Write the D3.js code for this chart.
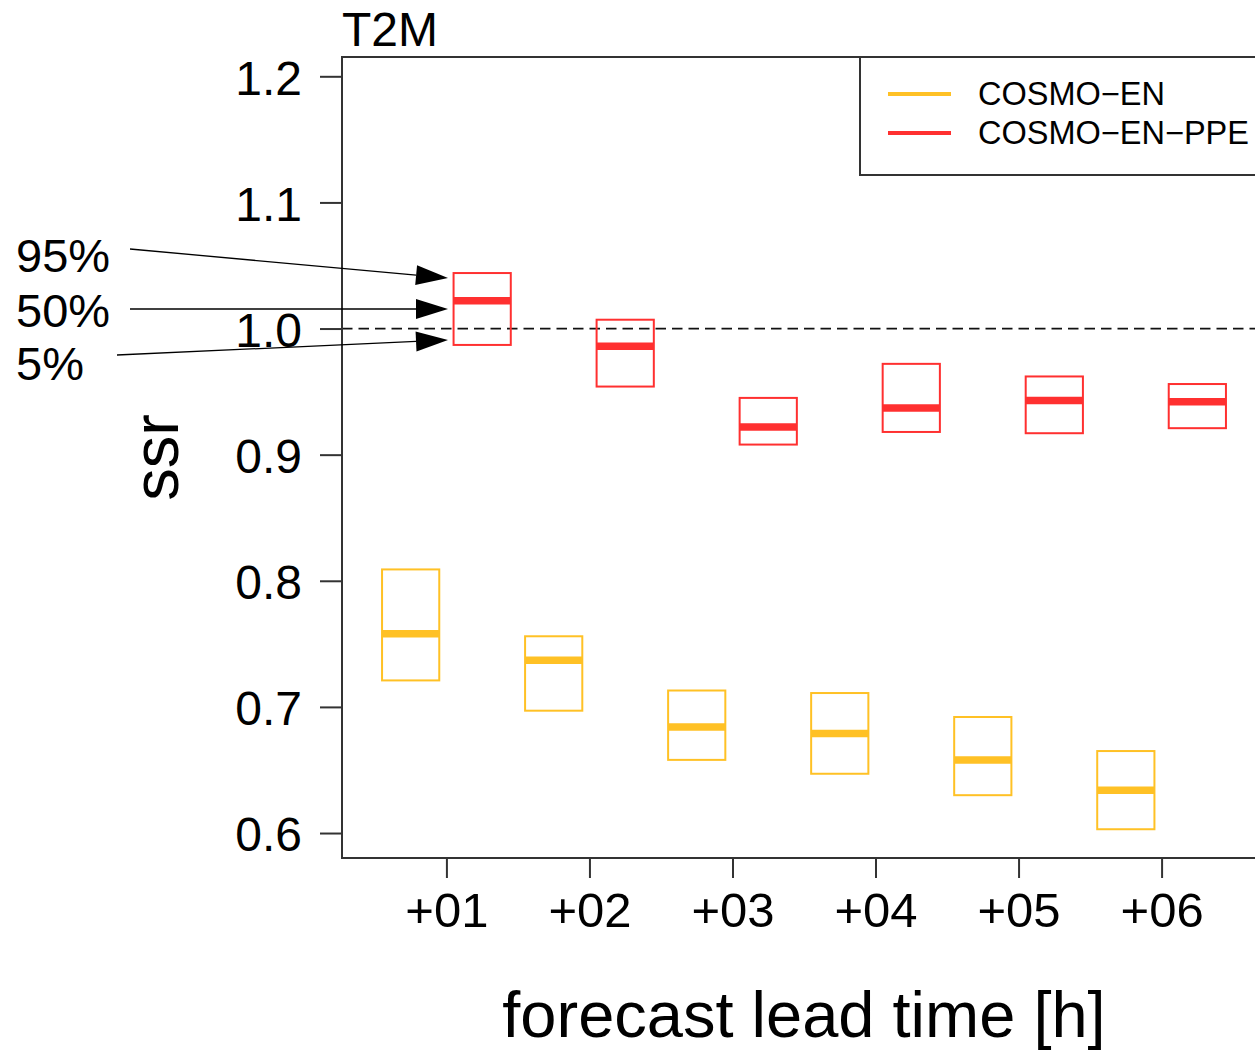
<!DOCTYPE html>
<html>
<head>
<meta charset="utf-8">
<script src="https://cdn.jsdelivr.net/npm/d3@7"></script>
<style>
  body { margin: 0; background: #fff; }
  svg { display: block; font-family: "Liberation Sans", Arial, Helvetica, sans-serif; }
</style>
</head>
<body>
<svg width="1255" height="1052"></svg>
<script>
// lead times and ssr quantiles
const leadTimes = [1, 2, 3, 4, 5, 6]
const leadLabels = ["+01", "+02", "+03", "+04", "+05", "+06"]

const enQ95 = [0.809, 0.756, 0.713, 0.711, 0.692, 0.665]
const enQ50 = [0.758, 0.737, 0.684, 0.679, 0.658, 0.634]
const enQ05 = [0.721, 0.697, 0.658, 0.647, 0.630, 0.603]

const ppeQ95 = [1.044, 1.007, 0.945, 0.972, 0.962, 0.956]
const ppeQ50 = [1.022, 0.986, 0.922, 0.937, 0.943, 0.942]
const ppeQ05 = [0.987, 0.954, 0.908, 0.918, 0.917, 0.921]

const yTicks = [0.6, 0.7, 0.8, 0.9, 1.0, 1.1, 1.2]
const seriesNames = ["COSMO\u2212EN", "COSMO\u2212EN\u2212PPE"]
const colors = ["#ffc125", "#ff3030"]
const quantLabels = ["95%", "50%", "5%"]

const svg = d3.select('svg')

const frame = {left: 342, right: 1266, top: 57, bottom: 858}

const xScale = d3.scaleLinear()
	.domain([0.27, 6.73])
	.range([frame.left, frame.right])

const yScale = d3.scaleLinear()
	.domain([0.5802, 1.2153])
	.range([frame.bottom, frame.top])

const series = [
	{name: seriesNames[0], color: colors[0], offset: -0.25, q95: enQ95, q50: enQ50, q05: enQ05},
	{name: seriesNames[1], color: colors[1], offset: 0.25, q95: ppeQ95, q50: ppeQ50, q05: ppeQ05}
]
const boxWidth = 0.4

// reference line at ssr = 1
svg.append('line')
	.attr('x1', frame.left).attr('x2', frame.right)
	.attr('y1', yScale(1)).attr('y2', yScale(1))
	.attr('stroke', '#111').attr('stroke-width', 1.8)
	.attr('stroke-dasharray', '10.5,6')

// boxes
series.forEach(s => {
	const g = svg.append('g')
	leadTimes.forEach((t, i) => {
		const x0 = xScale(t + s.offset - boxWidth / 2)
		const x1 = xScale(t + s.offset + boxWidth / 2)
		g.append('rect')
			.attr('x', x0)
			.attr('y', yScale(s.q95[i]))
			.attr('width', x1 - x0)
			.attr('height', yScale(s.q05[i]) - yScale(s.q95[i]))
			.attr('fill', 'none')
			.attr('stroke', s.color)
			.attr('stroke-width', 2)
		g.append('line')
			.attr('x1', x0).attr('x2', x1)
			.attr('y1', yScale(s.q50[i])).attr('y2', yScale(s.q50[i]))
			.attr('stroke', s.color)
			.attr('stroke-width', 7.5)
	})
})

// axes
const yAxis = d3.axisLeft(yScale)
	.tickValues(yTicks)
	.tickFormat(d3.format('.1f'))
	.tickSize(22)
	.tickPadding(18)

const yG = svg.append('g')
	.attr('transform', `translate(${frame.left},0)`)
	.call(yAxis)
yG.select('.domain').remove()
yG.selectAll('.tick line').attr('stroke', '#333').attr('stroke-width', 2)
yG.selectAll('.tick text')
	.attr('font-size', 48)
	.attr('font-family', '"Liberation Sans", Arial, sans-serif')
	.attr('fill', '#000')
	.attr('dy', '0.37em')

const xAxis = d3.axisBottom(xScale)
	.tickValues(leadTimes)
	.tickFormat((d, i) => leadLabels[i])
	.tickSize(20)
	.tickPadding(14)

const xG = svg.append('g')
	.attr('transform', `translate(0,${frame.bottom})`)
	.call(xAxis)
xG.select('.domain').remove()
xG.selectAll('.tick line').attr('stroke', '#333').attr('stroke-width', 2)
xG.selectAll('.tick text')
	.attr('font-size', 49)
	.attr('font-family', '"Liberation Sans", Arial, sans-serif')
	.attr('fill', '#000')

// plot frame
svg.append('rect')
	.attr('x', frame.left).attr('y', frame.top)
	.attr('width', frame.right - frame.left)
	.attr('height', frame.bottom - frame.top)
	.attr('fill', 'none')
	.attr('stroke', '#333')
	.attr('stroke-width', 2)

// titles
svg.append('text')
	.attr('x', frame.left)
	.attr('y', 46)
	.attr('font-size', 48)
	.text('T2M')

svg.append('text')
	.attr('transform', `translate(178,${(frame.top + frame.bottom) / 2}) rotate(-90)`)
	.attr('text-anchor', 'middle')
	.attr('font-size', 65)
	.text('ssr')

svg.append('text')
	.attr('x', (frame.left + frame.right) / 2)
	.attr('y', 1037)
	.attr('text-anchor', 'middle')
	.attr('font-size', 65)
	.text('forecast lead time [h]')

// legend
const legend = svg.append('g')
legend.append('rect')
	.attr('x', 860).attr('y', frame.top)
	.attr('width', 420).attr('height', 118)
	.attr('fill', '#fff')
	.attr('stroke', '#333')
	.attr('stroke-width', 2)

series.forEach((s, i) => {
	const ly = 94 + i * 39
	legend.append('line')
		.attr('x1', 888).attr('x2', 951)
		.attr('y1', ly).attr('y2', ly)
		.attr('stroke', s.color)
		.attr('stroke-width', 4)
	legend.append('text')
		.attr('x', 978)
		.attr('y', ly + 11)
		.attr('font-size', 32.5)
		.text(s.name)
})

// quantile annotations with arrows
const notes = [
	{label: quantLabels[0], tx: 16, ty: 272, x1: 130, y1: 249, x2: 448, y2: 278},
	{label: quantLabels[1], tx: 16, ty: 327, x1: 130, y1: 309, x2: 448, y2: 309},
	{label: quantLabels[2], tx: 16, ty: 380, x1: 117, y1: 355, x2: 448, y2: 340}
]
const headLen = 32
const headHalf = 10
notes.forEach(n => {
	svg.append('text')
		.attr('x', n.tx).attr('y', n.ty)
		.attr('font-size', 47)
		.text(n.label)
	const dx = n.x2 - n.x1
	const dy = n.y2 - n.y1
	const len = Math.hypot(dx, dy)
	const ux = dx / len
	const uy = dy / len
	const bx = n.x2 - ux * headLen
	const by = n.y2 - uy * headLen
	svg.append('line')
		.attr('x1', n.x1).attr('y1', n.y1)
		.attr('x2', bx).attr('y2', by)
		.attr('stroke', '#000').attr('stroke-width', 1.3)
	svg.append('polygon')
		.attr('points', [
			[n.x2, n.y2],
			[bx - uy * headHalf, by + ux * headHalf],
			[bx + uy * headHalf, by - ux * headHalf]
		].map(p => p.join(',')).join(' '))
		.attr('fill', '#000')
})
</script>
</body>
</html>
